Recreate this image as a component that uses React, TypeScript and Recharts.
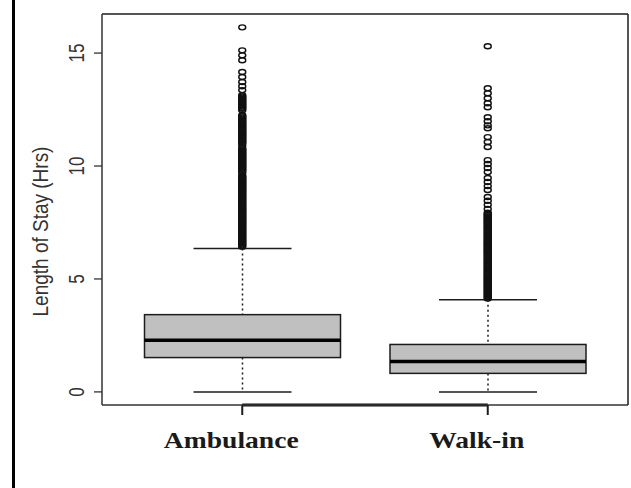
import { ComposedChart, Bar, Scatter, XAxis, YAxis, ReferenceLine } from 'recharts'

const categories = ['Ambulance', 'Walk-in']
const lowerWhisker = [0, 0]
const q1 = [1.52, 0.82]
const median = [2.29, 1.35]
const q3 = [3.42, 2.1]
const upperWhisker = [6.35, 4.08]

const yTicks = [0, 5, 10, 15]
const yDomain = [-0.58, 16.73]

// outliers, top to bottom (the lower runs are a solid column in the source)
const ambulanceOutliers = [
    16.14, 15.12, 14.9, 14.68, 14.16, 13.94, 13.72, 13.53, 13.36,
    13.13, 13.08, 13.03, 12.98, 12.93, 12.88, 12.83, 12.78, 12.73, 12.68, 12.63, 12.58, 12.53, 12.47,
    12.25, 12.2, 12.15, 12.1, 12.05, 12.0, 11.95, 11.9, 11.85, 11.8, 11.75, 11.7, 11.65, 11.6,
    11.55, 11.5, 11.45, 11.4, 11.35, 11.3, 11.25, 11.2, 11.15, 11.1, 11.05, 11.0, 10.9,
    10.78, 10.73, 10.68, 10.63, 10.58, 10.53, 10.48, 10.43, 10.38, 10.33, 10.28, 10.23, 10.18,
    10.13, 10.08, 10.03, 9.98, 9.93, 9.88, 9.83, 9.78, 9.7,
    9.58, 9.53, 9.48, 9.43, 9.38, 9.33, 9.28, 9.23, 9.18, 9.13, 9.08, 9.03, 8.98, 8.93, 8.88,
    8.83, 8.78, 8.73, 8.68, 8.63, 8.58, 8.53, 8.48, 8.43, 8.38, 8.33, 8.28, 8.23, 8.18, 8.13,
    8.08, 8.03, 7.98, 7.93, 7.88, 7.83, 7.78, 7.73, 7.68, 7.63, 7.58, 7.53, 7.48, 7.43, 7.38,
    7.33, 7.28, 7.23, 7.18, 7.13, 7.08, 7.03, 6.98, 6.93, 6.88, 6.83, 6.78, 6.73, 6.68, 6.63,
    6.58, 6.53, 6.48, 6.43,
]
const walkInOutliers = [
    15.3, 13.44, 13.22, 13.0, 12.78, 12.6, 12.16, 11.98, 11.8, 11.67,
    11.28, 11.06, 10.84, 10.26, 10.09, 9.91, 9.73, 9.47, 9.29, 9.11, 8.94,
    8.63, 8.46, 8.28, 8.1, 7.93, 7.88, 7.83, 7.78, 7.73, 7.68, 7.63, 7.58, 7.53, 7.48,
    7.43, 7.38, 7.33, 7.28, 7.23, 7.18, 7.13, 7.08, 7.03, 6.98, 6.93, 6.88, 6.83, 6.78,
    6.73, 6.68, 6.63, 6.58, 6.53, 6.48, 6.43, 6.38, 6.33, 6.28, 6.23, 6.18, 6.13, 6.08,
    6.03, 5.98, 5.93, 5.88, 5.83, 5.78, 5.73, 5.68, 5.63, 5.58, 5.53, 5.48, 5.43, 5.38,
    5.33, 5.28, 5.23, 5.18, 5.13, 5.08, 5.03, 4.98, 4.93, 4.88, 4.83, 4.78, 4.73, 4.68,
    4.63, 4.58, 4.53, 4.48, 4.43, 4.38, 4.33, 4.28, 4.23, 4.18, 4.13,
]

const boxData = categories.map((name, i) => ({
    name,
    box: [q1[i], q3[i]],
    lo: lowerWhisker[i],
    q1: q1[i],
    med: median[i],
    q3: q3[i],
    hi: upperWhisker[i],
}))

const outlierData = [
    ...ambulanceOutliers.map(v => ({ name: categories[0], v })),
    ...walkInOutliers.map(v => ({ name: categories[1], v })),
]

const INK = '#1c1c1c'

function BoxShape(props: any) {
    const { x, y, width, height, payload } = props
    const top = Math.min(y, y + height)
    const h = Math.abs(height)
    const k = h / (payload.q3 - payload.q1)
    const toY = (v: number) => top + (payload.q3 - v) * k
    const cx = x + width / 2
    const cap = width / 4
    return (
        <g>
            <line x1={cx} x2={cx} y1={toY(payload.hi)} y2={top} stroke={INK} strokeWidth={1.5} strokeDasharray="2 3" />
            <line x1={cx} x2={cx} y1={top + h} y2={toY(payload.lo)} stroke={INK} strokeWidth={1.5} strokeDasharray="2 3" />
            <line x1={cx - cap} x2={cx + cap} y1={toY(payload.hi)} y2={toY(payload.hi)} stroke={INK} strokeWidth={1.5} />
            <line x1={cx - cap} x2={cx + cap} y1={toY(payload.lo)} y2={toY(payload.lo)} stroke={INK} strokeWidth={1.5} />
            <rect x={x} y={top} width={width} height={h} fill="#c0c0c0" stroke={INK} strokeWidth={1.5} />
            <line x1={x} x2={x + width} y1={toY(payload.med)} y2={toY(payload.med)} stroke="#000" strokeWidth={3.5} />
        </g>
    )
}

function Outlier(props: any) {
    const { cx, cy } = props
    return <ellipse cx={cx} cy={cy} rx={3.5} ry={2.5} fill="none" stroke="#111" strokeWidth={1.4} />
}

function XTick(props: any) {
    const { x, y, payload } = props
    return (
        <g transform={`translate(${x - 11},${y + 33}) scale(1.15,1)`}>
            <text textAnchor="middle" fontFamily="'Liberation Serif', serif" fontWeight="bold" fontSize={24} fill="#1a1a1a">
                {payload.value}
            </text>
        </g>
    )
}

function YTick(props: any) {
    const { y, payload } = props
    return (
        <g transform={`translate(76,${y}) scale(1.3,1) rotate(-90)`}>
            <text textAnchor="middle" dy="0.36em" fontFamily="'Liberation Sans', Arial, sans-serif" fontSize={17} fill="#333">
                {payload.value}
            </text>
        </g>
    )
}

function YLabel(props: any) {
    const { viewBox } = props
    const cy = viewBox.y + viewBox.height / 2 + 22
    return (
        <g transform={`translate(40,${cy}) scale(1.2,1) rotate(-90)`}>
            <text textAnchor="middle" dy="0.36em" fontFamily="'Liberation Sans', Arial, sans-serif" fontSize={19} fill="#333">
                Length of Stay (Hrs)
            </text>
        </g>
    )
}

export default function App() {
    return (
        <div style={{ position: 'fixed', left: 0, top: 0, width: 631, height: 488, background: '#fff' }}>
            <div style={{ position: 'absolute', left: 12, top: 0, width: 3, height: 488, background: '#000' }} />
            <ComposedChart
                width={631}
                height={488}
                data={boxData}
                margin={{ top: 14, right: 2, bottom: 23, left: 0 }}
            >
                <XAxis
                    dataKey="name"
                    type="category"
                    allowDuplicatedCategory={false}
                    interval={0}
                    padding={{ left: 17.5, right: 17.5 }}
                    height={60}
                    tickSize={10}
                    tickMargin={0}
                    tickLine={{ stroke: INK, strokeWidth: 2 }}
                    axisLine={{ stroke: '#333', strokeWidth: 1.5 }}
                    tick={<XTick />}
                />
                <YAxis
                    type="number"
                    domain={yDomain}
                    ticks={yTicks}
                    allowDataOverflow
                    width={102}
                    tickSize={8}
                    tickLine={{ stroke: '#333', strokeWidth: 1.3 }}
                    axisLine={{ stroke: '#333', strokeWidth: 1.5 }}
                    tick={<YTick />}
                    label={<YLabel />}
                />
                <YAxis
                    yAxisId="right"
                    orientation="right"
                    type="number"
                    domain={yDomain}
                    allowDataOverflow
                    width={1}
                    tick={false}
                    tickLine={false}
                    axisLine={{ stroke: INK, strokeWidth: 1.5 }}
                />
                <Bar dataKey="box" barSize={196} shape={<BoxShape />} isAnimationActive={false} />
                <Scatter data={outlierData} dataKey="v" yAxisId="right" shape={<Outlier />} isAnimationActive={false} />
                <ReferenceLine y={yDomain[1]} stroke="#555" strokeWidth={2} ifOverflow="visible" />
                <ReferenceLine
                    segment={[
                        { x: categories[0], y: yDomain[0] },
                        { x: categories[1], y: yDomain[0] },
                    ]}
                    stroke="#111"
                    strokeWidth={3}
                    ifOverflow="visible"
                />
            </ComposedChart>
        </div>
    )
}
